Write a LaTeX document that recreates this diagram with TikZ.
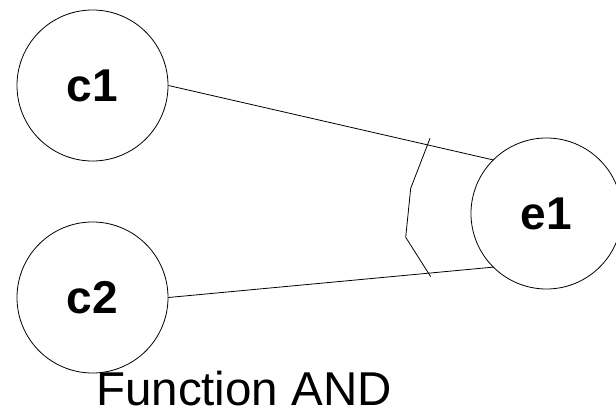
\documentclass[tikz,border=0pt]{standalone}
\usepackage{fontspec}
\setmainfont{Liberation Sans}
\usepackage{tikz}
\usetikzlibrary{positioning}
\usetikzlibrary{calc}
\tikzstyle{vertex} = [circle, draw, line width = .8pt, inner sep = 0,
                      minimum size = 151pt,
                      font = \fontsize{46}{50}\selectfont\bfseries]
\tikzstyle{edge} = [line width = .8pt]
\tikzstyle{graph picture} = [x = 1pt, y = 1pt]

\begin{document}
\begin{tikzpicture}[graph picture,
                        caption/.style = {font = \fontsize{47.5}{50}\selectfont,
                                          inner sep = 0, text depth = 0pt,
                                          anchor = base west},
                       ]
        \useasboundingbox (0, 0) rectangle (616, 413);

        \node [vertex] (c1) at ( 92.5, 327.5) {c1};
        \node [vertex] (c2) at ( 92.5, 115.5) {c2};
        \node [vertex] (e1) at (546.5, 199.5) {e1};

        \draw [edge] (c1.east) -- (e1.135);
        \draw [edge] (c2.east) -- (e1.225);

        % arc marking the conjunction
        \foreach \i/\x/\y in {0/430/274.7, 1/410.7/224.7, 2/405.7/175.7, 3/430.7/136.3}
            \coordinate (and_\i) at (\x, \y);
        \draw [edge] (and_0) -- (and_1) -- (and_2) -- (and_3);

        \node [caption] (title) at (96, 8) {Function AND};
    \end{tikzpicture}
\end{document}
